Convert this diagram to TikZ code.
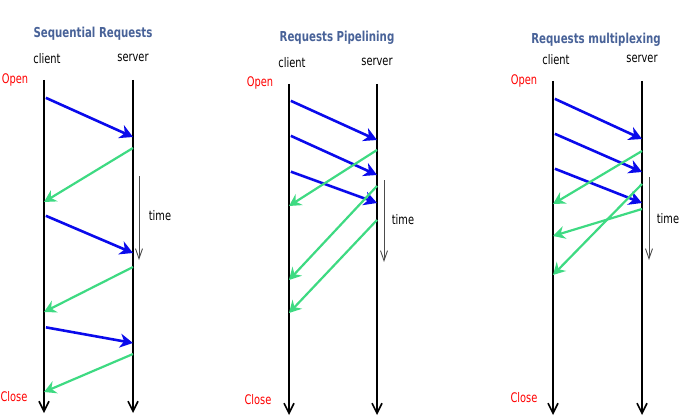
\documentclass[tikz,border=0pt]{standalone}
\usepackage{fontspec}
\setmainfont[FakeStretch=0.83]{DejaVu Sans Condensed}
\usetikzlibrary{arrows.meta}
\definecolor{reqblue}{RGB}{10,10,235}
\definecolor{respgreen}{RGB}{62,218,130}
\definecolor{headblue}{RGB}{72,98,152}

\begin{document}
\begin{tikzpicture}
		[x=1pt, y=-1pt,
			every node/.style={inner sep=0pt, font=\fontsize{13.2}{15}\selectfont},
			lifeline/.style={line width=1.8pt, -{Straight Barb[length=10pt,width=10pt,line width=1.6pt]}},
			req/.style={reqblue, line width=2.6pt, shorten <=2pt, -{Stealth[length=13pt,width=14pt,inset=4pt]}},
			resp/.style={respgreen, line width=2.2pt, -{Stealth[length=12pt,width=13pt,inset=4pt]}},
			timeline/.style={black!70, line width=0.9pt, -{Straight Barb[length=10pt,width=7pt,line width=0.9pt]}},
			heading/.style={headblue, font=\bfseries\fontsize{13.7}{15}\selectfont},
			marker/.style={red}]
		\useasboundingbox (0,0) rectangle (680,417);
		% lifelines, labels and time axis of the three panels
		\foreach \p/\cx/\sx/\top/\bot/\tx/\tt/\tb in
			{1/44/133/80/413/139/176/260, 2/289/377/84/415/384/180/262, 3/553/642/81/415/649/177/260}
			{
				\coordinate (client\p) at (\cx,\top);
				\coordinate (server\p) at (\sx,\top);
				\coordinate (clientend\p) at (\cx,\bot);
				\coordinate (serverend\p) at (\sx,\bot);
				\coordinate (tstart\p) at (\tx,\tt);
				\coordinate (tend\p) at (\tx,\tb);
				\draw[lifeline] (client\p) -- (clientend\p);
				\draw[lifeline] (server\p) -- (serverend\p);
				\draw[timeline] (tstart\p) -- (tend\p);
				\node (clientlabel\p) at ([shift={(3,-21)}]client\p) {client};
				\node (serverlabel\p) at ([shift={(0,-22)}]server\p) {server};
			}
		\node[heading] (title1) at (93,34) {Sequential Requests};
		\node[heading] (title2) at (337,38) {Requests Pipelining};
		\node[heading] (title3) at (596,40) {Requests multiplexing};
		\node[marker] (open1) at (15,80) {Open};
		\node[marker] (open2) at (260,83) {Open};
		\node[marker] (open3) at (524,81) {Open};
		\node[marker] (close1) at (14,397) {Close};
		\node[marker] (close2) at (258,400) {Close};
		\node[marker] (close3) at (524,398) {Close};
		\node (time1) at (160,216) {time};
		\node (time2) at (403,220) {time};
		\node (time3) at (668,219) {time};
		% sequential
		\foreach \a/\b in {97/137, 215/253, 327/343}
			\draw[req] (client1 |- 0,\a) -- (server1 |- 0,\b);
		\foreach \a/\b in {148/202, 267/312, 354/392}
			\draw[resp] (server1 |- 0,\a) -- (client1 |- 0,\b);
		% pipelining
		\foreach \a/\b in {100/140, 135/175, 171/203}
			\draw[req] (client2 |- 0,\a) -- (server2 |- 0,\b);
		\foreach \a/\b in {150/206, 186/280, 220/313}
			\draw[resp] (server2 |- 0,\a) -- (client2 |- 0,\b);
		% multiplexing
		\foreach \a/\b in {98/139, 133/172, 168/203}
			\draw[req] (client3 |- 0,\a) -- (server3 |- 0,\b);
		\foreach \a/\b in {151/204, 184/275, 209/236}
			\draw[resp] (server3 |- 0,\a) -- (client3 |- 0,\b);
	\end{tikzpicture}
\end{document}
